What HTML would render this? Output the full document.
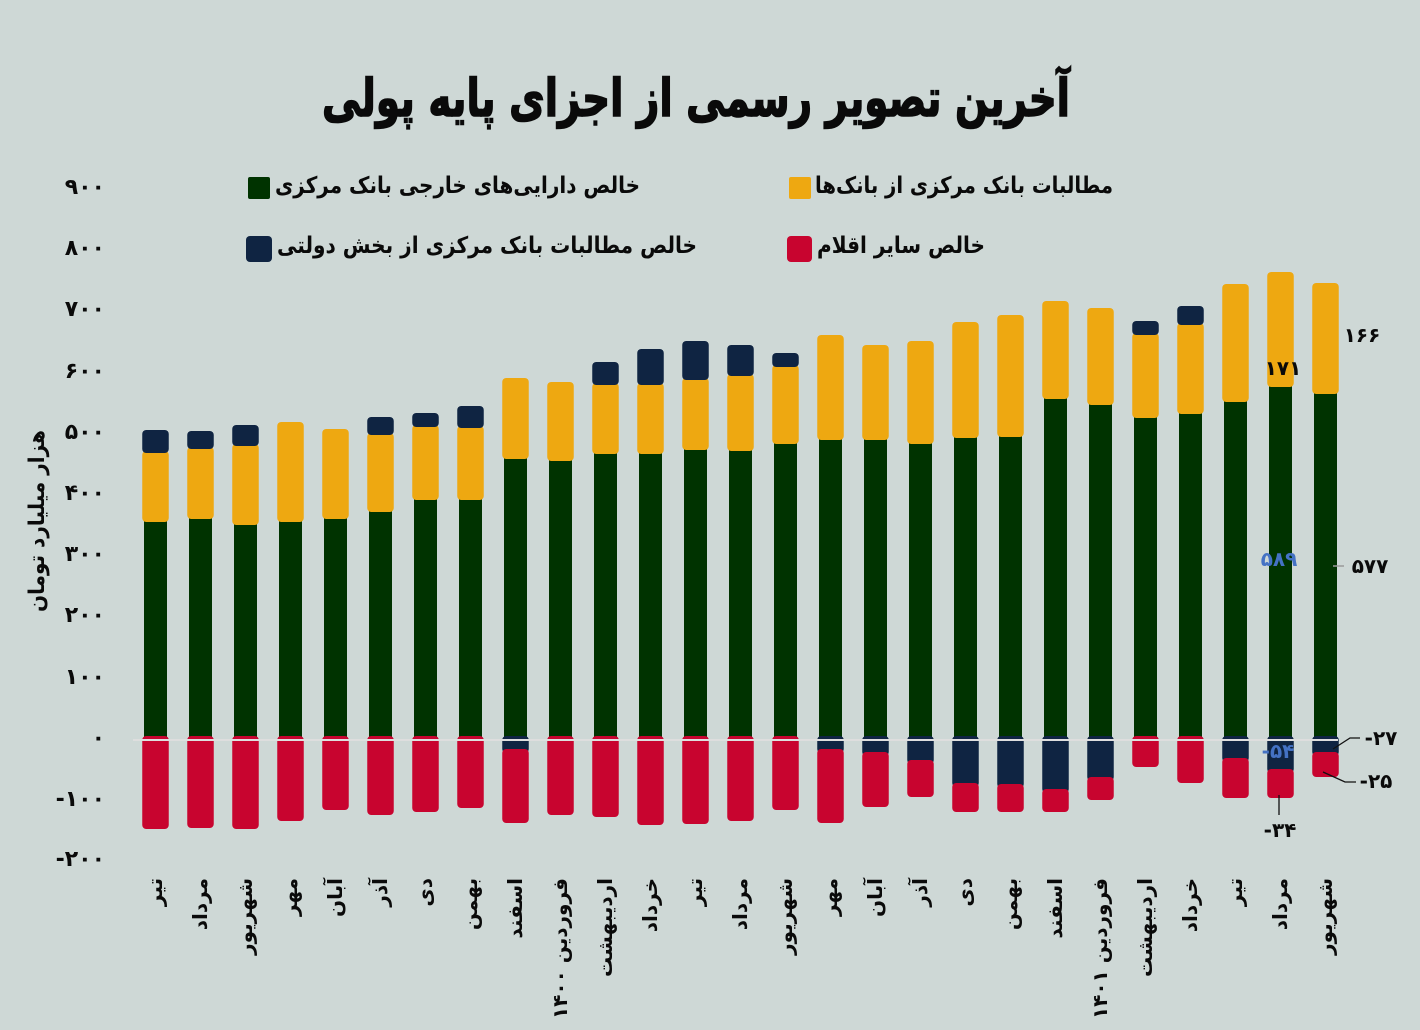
<!DOCTYPE html>
<html><head><meta charset="utf-8">
<style>
html,body{margin:0;padding:0;background:#ced8d6;}
svg{display:block;}
text{font-family:"DejaVu Sans","Liberation Sans",sans-serif;font-weight:bold;fill:#0a0a0a;}
.g{fill:#003300}.y{fill:#eea811}.n{fill:#0f2442}.r{fill:#c8042f}
.tk{font-size:22px;}
.xl{font-size:20px;}
.lg{font-size:23px;}
.dl{font-size:20px;}
</style></head>
<body>
<svg width="1420" height="1030" viewBox="0 0 1420 1030" xmlns="http://www.w3.org/2000/svg">
<rect width="1420" height="1030" fill="#ced8d6"/>

<!-- Title -->
<text x="696" y="116" text-anchor="middle" font-size="52" textLength="748" lengthAdjust="spacingAndGlyphs" stroke="#0a0a0a" stroke-width="1.6">آخرین تصویر رسمی از اجزای پایه پولی</text>

<!-- Legend -->
<rect x="248" y="177" width="22" height="22" rx="2" class="g"/>
<text class="lg" x="275" y="193" textLength="365" lengthAdjust="spacingAndGlyphs">خالص دارایی‌های خارجی بانک مرکزی</text>
<rect x="789" y="177" width="22" height="22" rx="2" class="y"/>
<text class="lg" x="815" y="193" textLength="298" lengthAdjust="spacingAndGlyphs">مطالبات بانک مرکزی از بانک‌ها</text>
<rect x="246" y="236" width="26" height="26" rx="4" class="n"/>
<text class="lg" x="277" y="253" textLength="420" lengthAdjust="spacingAndGlyphs">خالص مطالبات بانک مرکزی از بخش دولتی</text>
<rect x="787" y="236" width="25" height="26" rx="4" class="r"/>
<text class="lg" x="817" y="253" textLength="168" lengthAdjust="spacingAndGlyphs">خالص سایر اقلام</text>

<!-- Y ticks -->
<g class="tk" text-anchor="end">
<text x="105" y="194">۹۰۰</text>
<text x="105" y="255">۸۰۰</text>
<text x="105" y="316">۷۰۰</text>
<text x="105" y="378">۶۰۰</text>
<text x="105" y="439">۵۰۰</text>
<text x="105" y="500">۴۰۰</text>
<text x="105" y="561">۳۰۰</text>
<text x="105" y="622">۲۰۰</text>
<text x="105" y="684">۱۰۰</text>
<text x="105" y="745">۰</text>
<text x="105" y="806">-۱۰۰</text>
<text x="105" y="866">-۲۰۰</text>
</g>

<!-- Y axis title -->
<text transform="translate(44,521) rotate(-90)" text-anchor="middle" font-size="22" textLength="182" lengthAdjust="spacingAndGlyphs">هزار میلیارد تومان</text>

<!-- Bars -->
<g transform="translate(155.5,0)"><rect class="g" x="-11.5" y="520" width="23" height="218"/><rect class="y" x="-13.25" y="451" width="26.5" height="71" rx="4"/><rect class="n" x="-13.25" y="430" width="26.5" height="23" rx="4"/><rect class="r" x="-13.25" y="736" width="26.5" height="93" rx="4"/></g>
<g transform="translate(200.5,0)"><rect class="g" x="-11.5" y="517" width="23" height="221"/><rect class="y" x="-13.25" y="447" width="26.5" height="72" rx="4"/><rect class="n" x="-13.25" y="431" width="26.5" height="18" rx="4"/><rect class="r" x="-13.25" y="736" width="26.5" height="92" rx="4"/></g>
<g transform="translate(245.5,0)"><rect class="g" x="-11.5" y="523" width="23" height="215"/><rect class="y" x="-13.25" y="444" width="26.5" height="81" rx="4"/><rect class="n" x="-13.25" y="425" width="26.5" height="21" rx="4"/><rect class="r" x="-13.25" y="736" width="26.5" height="93" rx="4"/></g>
<g transform="translate(290.5,0)"><rect class="g" x="-11.5" y="520" width="23" height="218"/><rect class="y" x="-13.25" y="422" width="26.5" height="100" rx="4"/><rect class="r" x="-13.25" y="736" width="26.5" height="85" rx="4"/></g>
<g transform="translate(335.5,0)"><rect class="g" x="-11.5" y="517" width="23" height="221"/><rect class="y" x="-13.25" y="429" width="26.5" height="90" rx="4"/><rect class="r" x="-13.25" y="736" width="26.5" height="74" rx="4"/></g>
<g transform="translate(380.5,0)"><rect class="g" x="-11.5" y="510" width="23" height="228"/><rect class="y" x="-13.25" y="433" width="26.5" height="79" rx="4"/><rect class="n" x="-13.25" y="417" width="26.5" height="18" rx="4"/><rect class="r" x="-13.25" y="736" width="26.5" height="79" rx="4"/></g>
<g transform="translate(425.5,0)"><rect class="g" x="-11.5" y="498" width="23" height="240"/><rect class="y" x="-13.25" y="425" width="26.5" height="75" rx="4"/><rect class="n" x="-13.25" y="413" width="26.5" height="14" rx="4"/><rect class="r" x="-13.25" y="736" width="26.5" height="76" rx="4"/></g>
<g transform="translate(470.5,0)"><rect class="g" x="-11.5" y="498" width="23" height="240"/><rect class="y" x="-13.25" y="426" width="26.5" height="74" rx="4"/><rect class="n" x="-13.25" y="406" width="26.5" height="22" rx="4"/><rect class="r" x="-13.25" y="736" width="26.5" height="72" rx="4"/></g>
<g transform="translate(515.5,0)"><rect class="g" x="-11.5" y="457" width="23" height="281"/><rect class="y" x="-13.25" y="378" width="26.5" height="81" rx="4"/><rect class="n" x="-13.25" y="736" width="26.5" height="17" rx="4"/><rect class="r" x="-13.25" y="749" width="26.5" height="74" rx="4"/></g>
<g transform="translate(560.5,0)"><rect class="g" x="-11.5" y="459" width="23" height="279"/><rect class="y" x="-13.25" y="382" width="26.5" height="79" rx="4"/><rect class="r" x="-13.25" y="736" width="26.5" height="79" rx="4"/></g>
<g transform="translate(605.5,0)"><rect class="g" x="-11.5" y="452" width="23" height="286"/><rect class="y" x="-13.25" y="383" width="26.5" height="71" rx="4"/><rect class="n" x="-13.25" y="362" width="26.5" height="23" rx="4"/><rect class="r" x="-13.25" y="736" width="26.5" height="81" rx="4"/></g>
<g transform="translate(650.5,0)"><rect class="g" x="-11.5" y="452" width="23" height="286"/><rect class="y" x="-13.25" y="383" width="26.5" height="71" rx="4"/><rect class="n" x="-13.25" y="349" width="26.5" height="36" rx="4"/><rect class="r" x="-13.25" y="736" width="26.5" height="89" rx="4"/></g>
<g transform="translate(695.5,0)"><rect class="g" x="-11.5" y="448" width="23" height="290"/><rect class="y" x="-13.25" y="378" width="26.5" height="72" rx="4"/><rect class="n" x="-13.25" y="341" width="26.5" height="39" rx="4"/><rect class="r" x="-13.25" y="736" width="26.5" height="88" rx="4"/></g>
<g transform="translate(740.5,0)"><rect class="g" x="-11.5" y="449" width="23" height="289"/><rect class="y" x="-13.25" y="374" width="26.5" height="77" rx="4"/><rect class="n" x="-13.25" y="345" width="26.5" height="31" rx="4"/><rect class="r" x="-13.25" y="736" width="26.5" height="85" rx="4"/></g>
<g transform="translate(785.5,0)"><rect class="g" x="-11.5" y="442" width="23" height="296"/><rect class="y" x="-13.25" y="365" width="26.5" height="79" rx="4"/><rect class="n" x="-13.25" y="353" width="26.5" height="14" rx="4"/><rect class="r" x="-13.25" y="736" width="26.5" height="74" rx="4"/></g>
<g transform="translate(830.5,0)"><rect class="g" x="-11.5" y="438" width="23" height="300"/><rect class="y" x="-13.25" y="335" width="26.5" height="105" rx="4"/><rect class="n" x="-13.25" y="736" width="26.5" height="17" rx="4"/><rect class="r" x="-13.25" y="749" width="26.5" height="74" rx="4"/></g>
<g transform="translate(875.5,0)"><rect class="g" x="-11.5" y="438" width="23" height="300"/><rect class="y" x="-13.25" y="345" width="26.5" height="95" rx="4"/><rect class="n" x="-13.25" y="736" width="26.5" height="20" rx="4"/><rect class="r" x="-13.25" y="752" width="26.5" height="55" rx="4"/></g>
<g transform="translate(920.5,0)"><rect class="g" x="-11.5" y="442" width="23" height="296"/><rect class="y" x="-13.25" y="341" width="26.5" height="103" rx="4"/><rect class="n" x="-13.25" y="736" width="26.5" height="28" rx="4"/><rect class="r" x="-13.25" y="760" width="26.5" height="37" rx="4"/></g>
<g transform="translate(965.5,0)"><rect class="g" x="-11.5" y="436" width="23" height="302"/><rect class="y" x="-13.25" y="322" width="26.5" height="116" rx="4"/><rect class="n" x="-13.25" y="736" width="26.5" height="51" rx="4"/><rect class="r" x="-13.25" y="783" width="26.5" height="29" rx="4"/></g>
<g transform="translate(1010.5,0)"><rect class="g" x="-11.5" y="435" width="23" height="303"/><rect class="y" x="-13.25" y="315" width="26.5" height="122" rx="4"/><rect class="n" x="-13.25" y="736" width="26.5" height="52" rx="4"/><rect class="r" x="-13.25" y="784" width="26.5" height="28" rx="4"/></g>
<g transform="translate(1055.5,0)"><rect class="g" x="-11.5" y="397" width="23" height="341"/><rect class="y" x="-13.25" y="301" width="26.5" height="98" rx="4"/><rect class="n" x="-13.25" y="736" width="26.5" height="57" rx="4"/><rect class="r" x="-13.25" y="789" width="26.5" height="23" rx="4"/></g>
<g transform="translate(1100.5,0)"><rect class="g" x="-11.5" y="403" width="23" height="335"/><rect class="y" x="-13.25" y="308" width="26.5" height="97" rx="4"/><rect class="n" x="-13.25" y="736" width="26.5" height="45" rx="4"/><rect class="r" x="-13.25" y="777" width="26.5" height="23" rx="4"/></g>
<g transform="translate(1145.5,0)"><rect class="g" x="-11.5" y="416" width="23" height="322"/><rect class="y" x="-13.25" y="333" width="26.5" height="85" rx="4"/><rect class="n" x="-13.25" y="321" width="26.5" height="14" rx="4"/><rect class="r" x="-13.25" y="736" width="26.5" height="31" rx="4"/></g>
<g transform="translate(1190.5,0)"><rect class="g" x="-11.5" y="412" width="23" height="326"/><rect class="y" x="-13.25" y="323" width="26.5" height="91" rx="4"/><rect class="n" x="-13.25" y="306" width="26.5" height="19" rx="4"/><rect class="r" x="-13.25" y="736" width="26.5" height="47" rx="4"/></g>
<g transform="translate(1235.5,0)"><rect class="g" x="-11.5" y="400" width="23" height="338"/><rect class="y" x="-13.25" y="284" width="26.5" height="118" rx="4"/><rect class="n" x="-13.25" y="736" width="26.5" height="26" rx="4"/><rect class="r" x="-13.25" y="758" width="26.5" height="40" rx="4"/></g>
<g transform="translate(1280.5,0)"><rect class="g" x="-11.5" y="385" width="23" height="353"/><rect class="y" x="-13.25" y="272" width="26.5" height="115" rx="4"/><rect class="n" x="-13.25" y="736" width="26.5" height="37" rx="4"/><rect class="r" x="-13.25" y="769" width="26.5" height="29" rx="4"/></g>
<g transform="translate(1325.5,0)"><rect class="g" x="-11.5" y="392" width="23" height="346"/><rect class="y" x="-13.25" y="283" width="26.5" height="111" rx="4"/><rect class="n" x="-13.25" y="736" width="26.5" height="20" rx="4"/><rect class="r" x="-13.25" y="752" width="26.5" height="25" rx="4"/></g>

<!-- zero line -->
<rect x="133" y="739" width="1205" height="2" fill="#dedede"/>

<!-- Data labels -->
<text class="dl" x="1362" y="342" text-anchor="middle">۱۶۶</text>
<text class="dl" x="1283" y="375" text-anchor="middle">۱۷۱</text>
<text class="dl" x="1279" y="566" text-anchor="middle" style="fill:#4472c4">۵۸۹</text>
<line x1="1333" y1="566" x2="1344" y2="566" stroke="#9a9a9a" stroke-width="1.5"/>
<text class="dl" x="1370" y="573" text-anchor="middle">۵۷۷</text>
<polyline points="1333,749 1350,738 1360,738" fill="none" stroke="#111" stroke-width="1.3"/>
<text class="dl" x="1381" y="745" text-anchor="middle">-۲۷</text>
<text class="dl" x="1278" y="758" text-anchor="middle" style="fill:#4472c4">-۵۴</text>
<polyline points="1323,772 1345,782 1356,782" fill="none" stroke="#111" stroke-width="1.3"/>
<text class="dl" x="1376" y="788" text-anchor="middle">-۲۵</text>
<line x1="1279" y1="795" x2="1279" y2="815" stroke="#111" stroke-width="1.3"/>
<text class="dl" x="1280" y="837" text-anchor="middle">-۳۴</text>

<!-- X labels -->
<g class="xl" text-anchor="end">
<text transform="translate(162,878) rotate(-90)">تیر</text>
<text transform="translate(207,878) rotate(-90)">مرداد</text>
<text transform="translate(252,878) rotate(-90)">شهریور</text>
<text transform="translate(297,878) rotate(-90)">مهر</text>
<text transform="translate(342,878) rotate(-90)">آبان</text>
<text transform="translate(387,878) rotate(-90)">آذر</text>
<text transform="translate(432,878) rotate(-90)">دی</text>
<text transform="translate(477,878) rotate(-90)">بهمن</text>
<text transform="translate(522,878) rotate(-90)">اسفند</text>
<text transform="translate(567,878) rotate(-90)">فروردین ۱۴۰۰</text>
<text transform="translate(612,878) rotate(-90)">اردیبهشت</text>
<text transform="translate(657,878) rotate(-90)">خرداد</text>
<text transform="translate(702,878) rotate(-90)">تیر</text>
<text transform="translate(747,878) rotate(-90)">مرداد</text>
<text transform="translate(792,878) rotate(-90)">شهریور</text>
<text transform="translate(837,878) rotate(-90)">مهر</text>
<text transform="translate(882,878) rotate(-90)">آبان</text>
<text transform="translate(927,878) rotate(-90)">آذر</text>
<text transform="translate(972,878) rotate(-90)">دی</text>
<text transform="translate(1017,878) rotate(-90)">بهمن</text>
<text transform="translate(1062,878) rotate(-90)">اسفند</text>
<text transform="translate(1107,878) rotate(-90)">فروردین ۱۴۰۱</text>
<text transform="translate(1152,878) rotate(-90)">اردیبهشت</text>
<text transform="translate(1197,878) rotate(-90)">خرداد</text>
<text transform="translate(1242,878) rotate(-90)">تیر</text>
<text transform="translate(1287,878) rotate(-90)">مرداد</text>
<text transform="translate(1332,878) rotate(-90)">شهریور</text>
</g>
</svg>
</body></html>
